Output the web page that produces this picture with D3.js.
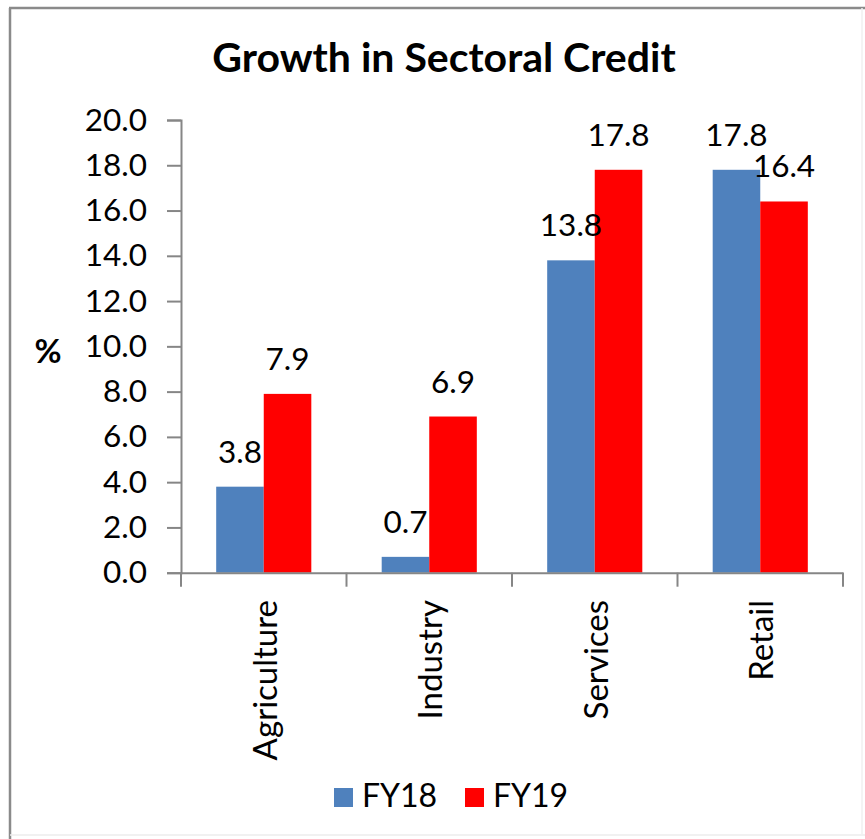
<!DOCTYPE html>
<html>
<head>
<meta charset="utf-8">
<script src="https://cdn.jsdelivr.net/npm/d3@7"></script>
<style>
  html, body { margin: 0; padding: 0; background: #ffffff; }
  svg { display: block; font-family: Lato, "Open Sans", sans-serif; }
</style>
</head>
<body>
<svg id="chart" width="865" height="839"></svg>
<script>
// Sector names along the x axis
const categories = ["Agriculture", "Industry", "Services", "Retail"];
// Series names shown in the legend
const seriesNames = ["FY18", "FY19"];
// Credit growth, % year on year
const fy18 = [3.8, 0.7, 13.8, 17.8];
const fy19 = [7.9, 6.9, 17.8, 16.4];
// Y axis tick values
const yTicks = [0, 2, 4, 6, 8, 10, 12, 14, 16, 18, 20];

const seriesValues = [fy18, fy19];
const seriesColors = ["#4F81BD", "#FF0000"];

const svg = d3.select("#chart");
const W = 865, H = 839;

// chart frame
svg.append("rect").attr("x", 0).attr("y", 0).attr("width", W).attr("height", H).attr("fill", "#fff");
svg.append("line").attr("x1", 10).attr("x2", 10).attr("y1", 8).attr("y2", H)
  .attr("stroke", "#8a8a8a").attr("stroke-width", 2.5);
svg.append("line").attr("x1", 9).attr("x2", W).attr("y1", 8).attr("y2", 8)
  .attr("stroke", "#8a8a8a").attr("stroke-width", 2.5);
svg.append("line").attr("x1", 10).attr("x2", W).attr("y1", 835).attr("y2", 835)
  .attr("stroke", "#ececec").attr("stroke-width", 1.5);
svg.append("line").attr("x1", 862).attr("x2", 862).attr("y1", 8).attr("y2", 835)
  .attr("stroke", "#f0f0f0").attr("stroke-width", 1.5);

const plot = { left: 181, right: 843, top: 120, bottom: 572.7 };

const x0 = d3.scaleBand().domain(categories).range([plot.left, plot.right]).paddingInner(0).paddingOuter(0);
const x1 = d3.scaleBand().domain(seriesNames).range([0, x0.bandwidth()]).paddingInner(0).paddingOuter(0.74);
const y = d3.scaleLinear().domain([0, 20]).range([plot.bottom, plot.top]);

const axisColor = "#868686";

// title
svg.append("text")
  .attr("x", 444).attr("y", 72)
  .attr("text-anchor", "middle")
  .attr("font-weight", "bold").attr("font-size", 41)
  .attr("fill", "#000")
  .text("Growth in Sectoral Credit");

// y axis
const yAxis = d3.axisLeft(y).tickValues(yTicks).tickFormat(d3.format(".1f")).tickSize(14).tickPadding(20);
const gy = svg.append("g").attr("transform", `translate(${plot.left},0)`).call(yAxis);
gy.select(".domain").attr("stroke", axisColor).attr("stroke-width", 2);
gy.selectAll(".tick line").attr("stroke", axisColor).attr("stroke-width", 2);
gy.selectAll(".tick text")
  .attr("font-family", "Lato, sans-serif")
  .attr("font-size", 31.5).attr("fill", "#000")
  .attr("dy", null).attr("y", 10);

// y axis unit label
svg.append("text")
  .attr("x", 48).attr("y", 363)
  .attr("text-anchor", "middle")
  .attr("font-weight", "bold").attr("font-size", 33)
  .text("%");

// bars
const groups = svg.append("g").selectAll("g")
  .data(categories)
  .join("g")
  .attr("transform", d => `translate(${x0(d)},0)`);

groups.selectAll("rect")
  .data((d, i) => seriesNames.map((s, j) => ({ s, v: seriesValues[j][i], c: seriesColors[j] })))
  .join("rect")
  .attr("x", d => x1(d.s))
  .attr("width", x1.bandwidth())
  .attr("y", d => y(d.v))
  .attr("height", d => y(0) - y(d.v))
  .attr("fill", d => d.c);

// value labels
groups.selectAll("text.val")
  .data((d, i) => seriesNames.map((s, j) => ({ s, v: seriesValues[j][i] })))
  .join("text")
  .attr("class", "val")
  .attr("x", d => x1(d.s) + x1.bandwidth() / 2)
  .attr("y", d => y(d.v) - 24)
  .attr("text-anchor", "middle")
  .attr("font-size", 31.5)
  .attr("fill", "#000")
  .text(d => d.v.toFixed(1));

// x axis
const xAxis = d3.axisBottom(x0).tickSize(0).tickFormat("");
const gx = svg.append("g").attr("transform", `translate(0,${plot.bottom})`).call(xAxis);
gx.select(".domain").attr("stroke", axisColor).attr("stroke-width", 2);
// tick marks at category boundaries
const bounds = categories.map(c => x0(c)).concat([plot.right]);
gx.selectAll("line.sep")
  .data(bounds)
  .join("line")
  .attr("class", "sep")
  .attr("x1", d => d).attr("x2", d => d)
  .attr("y1", 0).attr("y2", 14)
  .attr("stroke", axisColor).attr("stroke-width", 2);

// rotated category labels
svg.append("g").selectAll("text")
  .data(categories)
  .join("text")
  .attr("transform", d => `translate(${x0(d) + x0.bandwidth() / 2 + 13},600) rotate(-90)`)
  .attr("text-anchor", "end")
  .attr("font-size", 33)
  .attr("fill", "#000")
  .text(d => d);

// legend
const legend = svg.append("g").selectAll("g")
  .data(seriesNames)
  .join("g")
  .attr("transform", (d, i) => `translate(${[334, 465][i]},788)`);
legend.append("rect")
  .attr("width", 19).attr("height", 19)
  .attr("fill", (d, i) => seriesColors[i]);
legend.append("text")
  .attr("x", 28).attr("y", 19)
  .attr("font-size", 32)
  .attr("fill", "#000")
  .text(d => d);
</script>
</body>
</html>
